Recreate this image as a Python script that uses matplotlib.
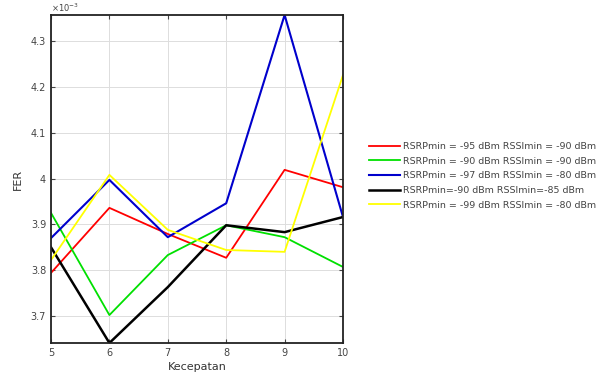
import matplotlib
matplotlib.use('Agg')
import matplotlib.pyplot as plt
from matplotlib.ticker import FuncFormatter
import numpy as np

kecepatan = [5, 6, 7, 8, 9, 10]

# FER values, read in units of 1e-3
fer_red = [3.794, 3.936, 3.879, 3.827, 4.019, 3.981]
fer_green = [3.925, 3.702, 3.833, 3.898, 3.872, 3.807]
fer_blue = [3.870, 3.997, 3.872, 3.946, 4.357, 3.916]
fer_black = [3.850, 3.641, 3.763, 3.898, 3.883, 3.916]
fer_yellow = [3.822, 4.008, 3.888, 3.844, 3.840, 4.226]

labels = [
    'RSRPmin = -95 dBm RSSImin = -90 dBm',
    'RSRPmin = -90 dBm RSSImin = -90 dBm',
    'RSRPmin = -97 dBm RSSImin = -80 dBm',
    'RSRPmin=-90 dBm RSSImin=-85 dBm',
    'RSRPmin = -99 dBm RSSImin = -80 dBm',
]
y_ticks = [3.7, 3.8, 3.9, 4.0, 4.1, 4.2, 4.3]

series = [fer_red, fer_green, fer_blue, fer_black, fer_yellow]
colors = ['#ff0000', '#00e000', '#0000cc', '#000000', '#ffff00']
widths = [1.3, 1.3, 1.5, 1.8, 1.3]

plt.rcParams['font.family'] = 'DejaVu Sans'
fig = plt.figure(figsize=(6.05, 3.83), dpi=100)
ax = fig.add_axes([51 / 605, 40 / 383, 292 / 605, 328 / 383])

for vals, c, lw, lab in zip(series, colors, widths, labels):
    ax.plot(kecepatan, np.array(vals) * 1e-3, color=c, linewidth=lw, label=lab)

allv = np.concatenate([np.array(s) for s in series]) * 1e-3
ax.set_xlim(5, 10)
ax.set_ylim(allv.min(), allv.max())
ax.set_xticks(kecepatan)
ax.set_yticks(np.array(y_ticks) * 1e-3)
ax.yaxis.set_major_formatter(FuncFormatter(lambda v, p: f'{v * 1e3:g}'))
ax.tick_params(direction='in', labelsize=7, colors='#444444', length=3,
               top=True, right=True)
ax.grid(True, color='#dddddd', linewidth=0.7)
for s in ax.spines.values():
    s.set_linewidth(1.3)
    s.set_color('#222222')

ax.text(0.0, 1.003, r'$\times10^{-3}$', transform=ax.transAxes, fontsize=6,
        color='#444444', va='bottom', ha='left')
ax.set_xlabel('Kecepatan', fontsize=8, color='#333333', labelpad=3)
ax.set_ylabel('FER', fontsize=8, color='#333333', labelpad=6)

ax.legend(loc='center left', bbox_to_anchor=(1.06, 0.51), frameon=False,
          fontsize=6.8, handlelength=3.3, handletextpad=0.3,
          labelspacing=0.6, labelcolor='#444444')

fig.savefig('out.png', dpi=100)
